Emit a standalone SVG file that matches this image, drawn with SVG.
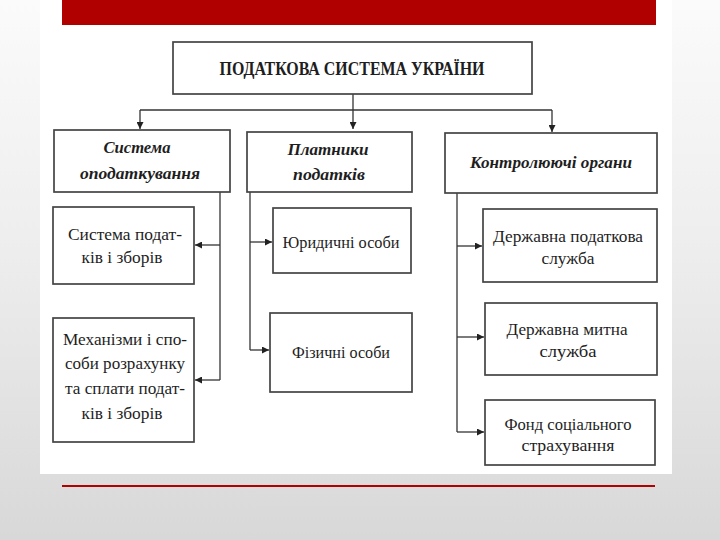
<svg xmlns="http://www.w3.org/2000/svg" width="720" height="540" viewBox="0 0 720 540">
<defs>
<linearGradient id="bg" x1="0" y1="0" x2="0" y2="1">
<stop offset="0" stop-color="#fbfbfb"/>
<stop offset="0.5" stop-color="#ececec"/>
<stop offset="1" stop-color="#d8d8d8"/>
</linearGradient>
<marker id="arr" viewBox="0 0 10 10" refX="10" refY="5" markerWidth="7" markerHeight="7" markerUnits="userSpaceOnUse" orient="auto">
<path d="M0,0 L10,5 L0,10 z" fill="#222"/>
</marker>
<style>
.box{fill:#fff;stroke:#444;stroke-width:1.7}
.t{font-family:"Liberation Serif","Times New Roman",serif;fill:#1e1e1e;text-anchor:middle}
.title{font-size:19px;font-weight:bold}
.h{font-size:17px;font-weight:bold;font-style:italic}
.n{font-size:17px}
.c{fill:none;stroke:#333;stroke-width:1.3}
</style>
</defs>
<rect x="0" y="0" width="720" height="540" fill="url(#bg)"/>
<rect x="40" y="0" width="632" height="474" fill="#ffffff"/>
<rect x="62" y="0" width="594" height="25" fill="#b00000"/>
<rect x="62" y="485" width="593" height="2" fill="#b00000"/>

<g id="connectors">
<path class="c" d="M353,94 V129" marker-end="url(#arr)"/>
<path class="c" d="M140,110 H552"/>
<path class="c" d="M140,110 V129" marker-end="url(#arr)"/>
<path class="c" d="M552,110 V132" marker-end="url(#arr)"/>
<path class="c" d="M220,192 V380"/>
<path class="c" d="M220,245 H195" marker-end="url(#arr)"/>
<path class="c" d="M220,380 H195" marker-end="url(#arr)"/>
<path class="c" d="M250,192 V350"/>
<path class="c" d="M250,242 H272" marker-end="url(#arr)"/>
<path class="c" d="M250,350 H269" marker-end="url(#arr)"/>
<path class="c" d="M457,193 V432"/>
<path class="c" d="M457,246 H482" marker-end="url(#arr)"/>
<path class="c" d="M457,337 H484" marker-end="url(#arr)"/>
<path class="c" d="M457,432 H484" marker-end="url(#arr)"/>
</g>

<g id="root">
<rect class="box" x="173" y="42" width="359" height="52"/>
<text class="t title" x="352" y="75" textLength="265" lengthAdjust="spacingAndGlyphs">ПОДАТКОВА СИСТЕМА УКРАЇНИ</text>
</g>

<g id="sistema">
<rect class="box" x="54" y="130" width="176" height="62"/>
<text class="t h" x="137" y="153" textLength="67" lengthAdjust="spacingAndGlyphs">Система</text>
<text class="t h" x="140" y="179" textLength="120" lengthAdjust="spacingAndGlyphs">оподаткування</text>
</g>

<g id="platnyky">
<rect class="box" x="247" y="132" width="165" height="60"/>
<text class="t h" x="328" y="155" textLength="81" lengthAdjust="spacingAndGlyphs">Платники</text>
<text class="t h" x="329" y="180" textLength="72" lengthAdjust="spacingAndGlyphs">податків</text>
</g>

<g id="kontrol">
<rect class="box" x="445" y="133" width="212" height="60"/>
<text class="t h" x="551" y="168" textLength="162" lengthAdjust="spacingAndGlyphs">Контролюючі органи</text>
</g>

<g id="sys-podatkiv">
<rect class="box" x="53" y="207" width="141" height="77"/>
<text class="t n" x="125" y="240" textLength="114" lengthAdjust="spacingAndGlyphs">Система подат-</text>
<text class="t n" x="122" y="263" textLength="81" lengthAdjust="spacingAndGlyphs">ків і зборів</text>
</g>

<g id="mechanizmy">
<rect class="box" x="53" y="318" width="141" height="124"/>
<text class="t n" x="125" y="345" textLength="124" lengthAdjust="spacingAndGlyphs">Механізми і спо-</text>
<text class="t n" x="125" y="369" textLength="120" lengthAdjust="spacingAndGlyphs">соби розрахунку</text>
<text class="t n" x="125" y="394" textLength="120" lengthAdjust="spacingAndGlyphs">та сплати подат-</text>
<text class="t n" x="122" y="419" textLength="81" lengthAdjust="spacingAndGlyphs">ків і зборів</text>
</g>

<g id="yurydychni">
<rect class="box" x="273" y="208" width="138" height="65"/>
<text class="t n" x="341" y="248" textLength="117" lengthAdjust="spacingAndGlyphs">Юридичні особи</text>
</g>

<g id="fizychni">
<rect class="box" x="270" y="313" width="142" height="79"/>
<text class="t n" x="341" y="358" textLength="98" lengthAdjust="spacingAndGlyphs">Фізичні особи</text>
</g>

<g id="dps">
<rect class="box" x="483" y="209" width="174" height="73"/>
<text class="t n" x="568" y="242" textLength="150" lengthAdjust="spacingAndGlyphs">Державна податкова</text>
<text class="t n" x="568" y="264" textLength="53" lengthAdjust="spacingAndGlyphs">служба</text>
</g>

<g id="dms">
<rect class="box" x="485" y="303" width="172" height="72"/>
<text class="t n" x="567" y="335" textLength="121" lengthAdjust="spacingAndGlyphs">Державна митна</text>
<text class="t n" x="568" y="357" textLength="57" lengthAdjust="spacingAndGlyphs">служба</text>
</g>

<g id="fss">
<rect class="box" x="485" y="400" width="170" height="65"/>
<text class="t n" x="568" y="430" textLength="127" lengthAdjust="spacingAndGlyphs">Фонд соціального</text>
<text class="t n" x="568" y="451" textLength="93" lengthAdjust="spacingAndGlyphs">страхування</text>
</g>
</svg>
